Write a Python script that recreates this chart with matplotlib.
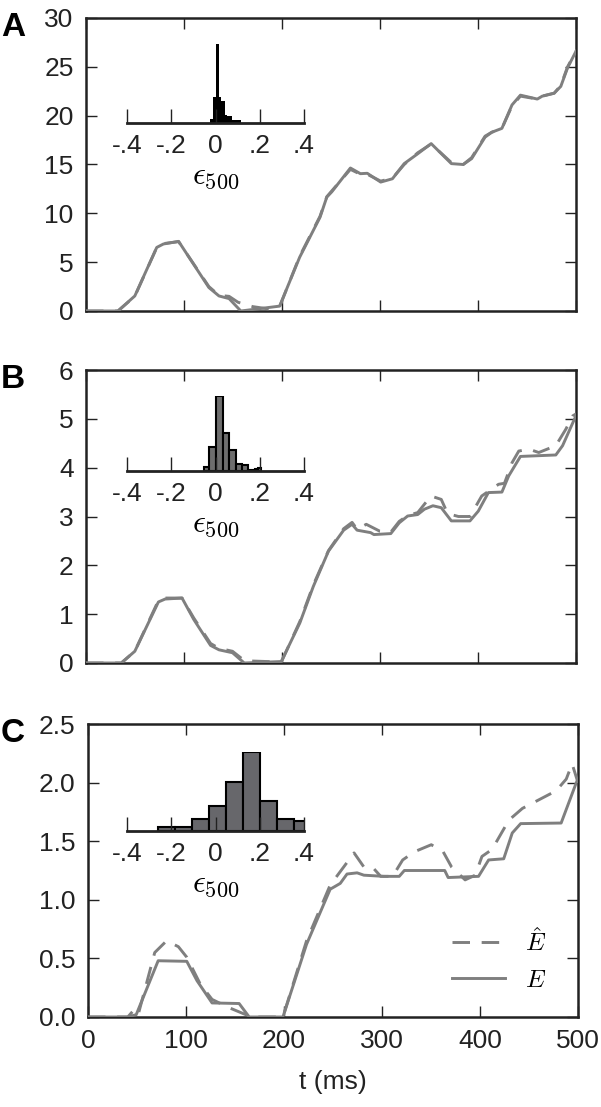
import matplotlib.pyplot as plt
import numpy as np

plt.rcParams['font.family'] = ['Liberation Sans', 'DejaVu Sans']
plt.rcParams['mathtext.fontset'] = 'cm'

# ---- panel A: E (solid) and E-hat (dashed) ----
tA = [0, 32.6, 49.8, 72.2, 79, 94.5, 125.4, 135.7, 146, 158, 197.6, 218, 238.8, 245.7,
      250.8, 269.8, 280, 287, 300.7, 312.7, 324.7, 338.5, 352.2, 372.8, 384.9, 393.5,
      407.2, 414, 424.4, 434.7, 443.3, 460.5, 465.6, 477.7, 484.5, 491.4, 500]
eA = [0, 0, 1.54, 6.51, 6.86, 7.13, 2.4, 1.54, 1.27, 0, 0.5, 5.5, 9.6, 11.66,
      12.2, 14.64, 14.06, 14.1, 13.2, 13.54, 15.09, 16.1, 17.14, 15.09, 15.0, 15.6,
      17.8, 18.3, 18.7, 21.1, 22.1, 21.7, 22.0, 22.3, 23.0, 24.9, 26.6]
tA_hat = [0, 32.6, 49.8, 72.2, 79, 94.5, 125.4, 135.7, 146, 155, 170, 187, 197.6, 218,
          238.8, 245.7, 250.8, 269.8, 280, 287, 300.7, 312.7, 324.7, 338.5, 352.2, 372.8,
          384.9, 393.5, 407.2, 414, 424.4, 434.7, 443.3, 460.5, 465.6, 477.7, 484.5, 491.4, 500]
eA_hat = [0, 0, 1.5, 6.5, 6.9, 7.1, 2.5, 1.6, 1.5, 0.9, 0.45, 0.2, 0.45, 5.6,
          9.7, 11.7, 12.3, 14.5, 14.0, 14.0, 13.3, 13.6, 15.0, 16.2, 17.1, 15.2,
          15.0, 15.7, 17.9, 18.3, 18.7, 21.0, 22.0, 21.7, 22.0, 22.3, 23.1, 25.0, 26.6]

# ---- panel B ----
tB = [0, 36, 49.8, 73.9, 80.8, 98, 110, 127.1, 135.7, 149.5, 161.5, 199.3, 218.2, 232,
      247.4, 262.9, 271.5, 276.6, 290.4, 293.8, 311, 319.6, 328.2, 338.5, 345.4, 354,
      362.5, 372.8, 391.8, 400.3, 410.6, 424.4, 431.3, 443.3, 479.4, 486.3, 498.3, 500]
eB = [0, 0, 0.24, 1.25, 1.31, 1.33, 0.89, 0.36, 0.27, 0.21, 0, 0.03, 0.82, 1.57,
      2.29, 2.72, 2.84, 2.72, 2.67, 2.63, 2.65, 2.87, 3.01, 3.04, 3.15, 3.22,
      3.18, 2.91, 2.91, 3.11, 3.49, 3.50, 3.83, 4.23, 4.26, 4.45, 4.99, 5.06]
tB_hat = [0, 36, 49.8, 73.9, 80.8, 98, 110, 127.1, 135.7, 149.5, 161.5, 170, 199.3, 218.2,
          232, 247.4, 262.9, 271.5, 276.6, 286, 299.7, 311, 319.6, 328.2, 338.5, 352, 362.5,
          369, 380, 391.8, 403.8, 421, 427, 434.7, 441.6, 451.9, 462, 479.4, 489.7, 496.6, 500]
eB_hat = [0, 0, 0.24, 1.28, 1.33, 1.33, 0.92, 0.4, 0.3, 0.24, 0.05, 0.04, 0.02, 0.85,
          1.6, 2.3, 2.75, 2.88, 2.74, 2.84, 2.70, 2.68, 2.9, 3.02, 3.08, 3.42, 3.35,
          3.06, 3.0, 3.0, 3.42, 3.66, 3.68, 4.1, 4.34, 4.38, 4.31, 4.45, 4.79, 5.06, 5.1]

# ---- panel C ----
tC = [0, 40.6, 49.2, 71.6, 100.8, 111.2, 126.6, 154.2, 164.5, 198.9, 223, 247.1, 257.4,
      264.3, 274.6, 281.5, 302.1, 317.6, 322.8, 364, 367.5, 398.5, 408.8, 424.2, 432.9,
      441.5, 482.8, 498.3, 500]
eC = [0, 0, 0.02, 0.48, 0.475, 0.31, 0.12, 0.115, 0, 0, 0.62, 1.09, 1.14,
      1.22, 1.23, 1.21, 1.20, 1.20, 1.25, 1.25, 1.19, 1.20, 1.34, 1.35, 1.57,
      1.65, 1.655, 2.0, 2.03]
tC_hat = [0, 40.6, 45.8, 50.9, 68.1, 80.2, 92.2, 100.8, 114.6, 126.6, 143.8, 161, 170,
          198.9, 223, 247.1, 260.9, 271.5, 281.5, 290.1, 298.7, 310.8, 321.1, 333.1, 350.3,
          362.4, 371, 384.8, 395.1, 402, 412.3, 429.5, 443.3, 477.7, 488, 494, 500]
eC_hat = [0, 0, 0.05, 0.01, 0.55, 0.65, 0.6, 0.51, 0.28, 0.15, 0.08, 0.02, 0,
          0, 0.65, 1.125, 1.28, 1.40, 1.28, 1.28, 1.20, 1.20, 1.34, 1.41, 1.47,
          1.41, 1.28, 1.17, 1.21, 1.37, 1.43, 1.68, 1.78, 1.93, 2.03, 2.16, 2.0]

# ---- inset histograms of eps_500 (bin edges and counts) ----
edgesA = [-0.024, -0.011, 0.0, 0.016, 0.027, 0.042, 0.053, 0.075, 0.113]
countsA = [3, 20, 60, 20, 17, 6, 5, 2]
edgesB = [-0.054, -0.028, 0.004, 0.033, 0.063, 0.092, 0.12, 0.149, 0.178, 0.192, 0.207]
countsB = [2, 13, 40, 20, 11, 4, 3, 0.6, 1.2, 1.7]
edgesC = [-0.26, -0.184, -0.107, -0.03, 0.047, 0.124, 0.2, 0.277, 0.353, 0.43]
countsC = [1.6, 1.6, 5, 10, 20, 32, 12, 5, 4]

yticksA = [0, 5, 10, 15, 20, 25, 30]
yticksB = [0, 1, 2, 3, 4, 5, 6]
yticksC = [0.0, 0.5, 1.0, 1.5, 2.0, 2.5]
xticks = [0, 100, 200, 300, 400, 500]
inset_ticks = [-0.4, -0.2, 0, 0.2, 0.4]
inset_labels = ['-.4', '-.2', '0', '.2', '.4']

W, H = 601, 1107
fig = plt.figure(figsize=(W / 100, H / 100), dpi=100)

line_col = '#7f7f7f'
dark = '#222222'


def px(l, t, r, b):
    return [l / W, 1 - b / H, (r - l) / W, (b - t) / H]


panels = [
    ('A', px(86, 18, 576, 311), tA, eA, tA_hat, eA_hat, yticksA, '%d',
     px(127, 44, 304, 123), edgesA, countsA, 'black', 'none'),
    ('B', px(86, 370, 576, 663), tB, eB, tB_hat, eB_hat, yticksB, '%d',
     px(127, 396, 304, 471), edgesB, countsB, '#6e6e6e', 'black'),
    ('C', px(88, 724, 578, 1017), tC, eC, tC_hat, eC_hat, yticksC, '%.1f',
     px(127, 752, 304, 831), edgesC, countsC, '#67676b', 'black'),
]

for (lab, pos, t, e, th, eh, yt, fmt, ipos, edges, counts, fc, ec) in panels:
    ax = fig.add_axes(pos)
    ax.plot(t, e, color=line_col, lw=2.1, label=r'$E$', zorder=3)
    ax.plot(th, eh, color=line_col, lw=2.1, dashes=(6, 4), label=r'$\hat{E}$', zorder=3)
    ax.set_xlim(0, 500)
    ax.set_ylim(yt[0], yt[-1])
    ax.set_yticks(yt)
    ax.set_yticklabels([fmt % v for v in yt])
    ax.set_xticks(xticks)
    ax.tick_params(direction='in', length=8, width=1, top=True, right=True,
                   labelsize=19, colors=dark, pad=9)
    for s in ax.spines.values():
        s.set_linewidth(1.8)
        s.set_color(dark)
    if lab != 'C':
        ax.set_xticklabels([])
    else:
        ax.set_xlabel('t (ms)', fontsize=19, color=dark, labelpad=12)
        h, l = ax.get_legend_handles_labels()
        ax.legend(h[::-1], l[::-1], loc='lower right', frameon=False, fontsize=18,
                  handlelength=2.1, borderaxespad=0.3, labelspacing=0.5,
                  bbox_to_anchor=(0.97, 0.025))
    # panel letter
    fig.text(1 / W, pos[1] + pos[3] + 6 / H, lab, fontsize=24, fontweight='bold',
             va='top', ha='left', color='black')

    # inset histogram
    ia = fig.add_axes(ipos)
    ia.bar(edges[:-1], counts, width=np.diff(edges), align='edge', color=fc,
           edgecolor=ec, linewidth=1.5 if ec != 'none' else 0)
    ia.set_xlim(-0.4, 0.4)
    ia.set_ylim(0, max(counts))
    ia.patch.set_alpha(0)
    for k in ['left', 'right', 'top']:
        ia.spines[k].set_visible(False)
    ia.spines['bottom'].set_linewidth(2)
    ia.spines['bottom'].set_color(dark)
    ia.set_yticks([])
    ia.set_xticks(inset_ticks)
    ia.set_xticklabels(inset_labels)
    ia.tick_params(axis='x', direction='in', length=10, width=1, labelsize=19,
                   colors=dark, pad=8)
    ia.set_xlabel(r'$\epsilon_{500}$', fontsize=23, labelpad=2)

fig.savefig('out.png', dpi=100)
